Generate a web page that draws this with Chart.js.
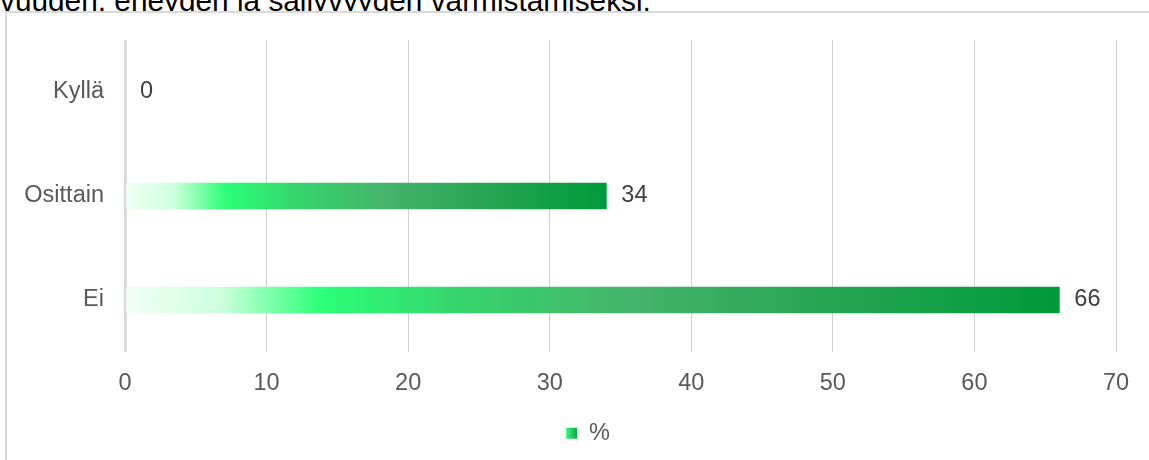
<!DOCTYPE html>
<html>
<head>
<meta charset="utf-8">
<script src="https://cdn.jsdelivr.net/npm/chart.js@4/dist/chart.umd.min.js"></script>
<style>
  html, body { margin: 0; padding: 0; background: #fff; overflow: hidden; }
  body { width: 1149px; height: 460px; position: relative; }
  #title { position: absolute; left: 0; top: -14.5px; font-family: "Liberation Sans", Arial, sans-serif; font-size: 29.8px; line-height: 30px; color: #000; white-space: nowrap; }
  #box { position: absolute; left: 5px; top: 11px; width: 1160px; height: 470px; border: 2px solid #d9d9d9; background: #fff; box-sizing: border-box; }
  #wrap { position: absolute; left: 0; top: 0; width: 1149px; height: 460px; }
</style>
</head>
<body>
<div id="title">vuuden, eheyden ja säilyvyyden varmistamiseksi.</div>
<div id="box"></div>
<div id="wrap"><canvas id="c" width="1149" height="460"></canvas></div>
<script>
const categories = ["Kyllä", "Osittain", "Ei"];
const values = [0, 34, 66];
const seriesLabel = "%";
const xTicks = [0, 10, 20, 30, 40, 50, 60, 70];

const FONT = "'Liberation Sans', Arial, sans-serif";
const FSIZE = 23.5;

function barGradient(ctx, x0, x1) {
  const g = ctx.createLinearGradient(x0, 0, x1, 0);
  g.addColorStop(0.00, "#f2fff6");
  g.addColorStop(0.10, "#cfffdf");
  g.addColorStop(0.21, "#2bff78");
  g.addColorStop(0.35, "#36d66c");
  g.addColorStop(0.55, "#45b26a");
  g.addColorStop(0.75, "#26a553");
  g.addColorStop(1.00, "#009a3a");
  return g;
}

const valueLabels = {
  id: "valueLabels",
  afterDatasetsDraw(chart) {
    const ctx = chart.ctx;
    const meta = chart.getDatasetMeta(0);
    ctx.save();
    ctx.font = FSIZE + "px " + FONT;
    ctx.fillStyle = "#404040";
    ctx.textAlign = "left";
    ctx.textBaseline = "middle";
    meta.data.forEach((bar, i) => {
      ctx.fillText(String(values[i]), bar.x + 15, bar.y);
    });
    ctx.restore();
  }
};

const LEGEND_SHIFT = 30;
const legendTweak = {
  id: "legendTweak",
  afterLayout(chart) {
    const lg = chart.legend;
    if (!lg) return;
    lg.left += LEGEND_SHIFT;
    lg.right += LEGEND_SHIFT;
  },
  beforeDraw(chart) {
    const lg = chart.legend;
    if (!lg || !lg.legendHitBoxes || !lg.legendHitBoxes.length) return;
    const hb = lg.legendHitBoxes[0];
    const g = chart.ctx.createLinearGradient(hb.left, 0, hb.left + 11, 0);
    g.addColorStop(0, "#2bff78");
    g.addColorStop(1, "#15a048");
    lg.legendItems[0].fillStyle = g;
  }
};

new Chart(document.getElementById("c"), {
  type: "bar",
  data: {
    labels: categories,
    datasets: [{
      label: seriesLabel,
      data: values,
      barThickness: 26,
      borderWidth: 0,
      backgroundColor(context) {
        const chart = context.chart;
        const xs = chart.scales && chart.scales.x;
        if (!chart.chartArea || !xs || context.type !== "data") return "#2bb55a";
        const x0 = xs.getPixelForValue(0);
        const x1 = xs.getPixelForValue(context.raw);
        if (x1 - x0 < 1) return "rgba(0,0,0,0)";
        return barGradient(chart.ctx, x0, x1);
      }
    }]
  },
  options: {
    indexAxis: "y",
    responsive: false,
    animation: false,
    devicePixelRatio: 1,
    layout: { padding: { top: 40, right: 33, bottom: 5, left: 0 } },
    scales: {
      x: {
        min: 0, max: 70,
        afterBuildTicks(scale) { scale.ticks = xTicks.map(v => ({ value: v })); },
        afterFit(scale) { scale.height = 57.5; },
        border: { display: false },
        grid: {
          drawTicks: false,
          color(ctx) { return ctx.index === 0 ? "#d9d9d9" : "#d0d0d0"; },
          lineWidth(ctx) { return ctx.index === 0 ? 3 : 1; }
        },
        ticks: { color: "#595959", font: { family: FONT, size: FSIZE }, padding: 17 }
      },
      y: {
        afterFit(scale) { scale.width = 125; },
        border: { display: false },
        grid: { display: false, drawTicks: false },
        ticks: { color: "#595959", font: { family: FONT, size: FSIZE }, padding: 21 }
      }
    },
    plugins: {
      legend: {
        position: "bottom",
        labels: { boxWidth: 11, boxHeight: 11, padding: 12, color: "#595959", font: { family: FONT, size: FSIZE } }
      },
      tooltip: { enabled: false },
      title: { display: false }
    }
  },
  plugins: [valueLabels, legendTweak]
});
</script>
</body>
</html>
